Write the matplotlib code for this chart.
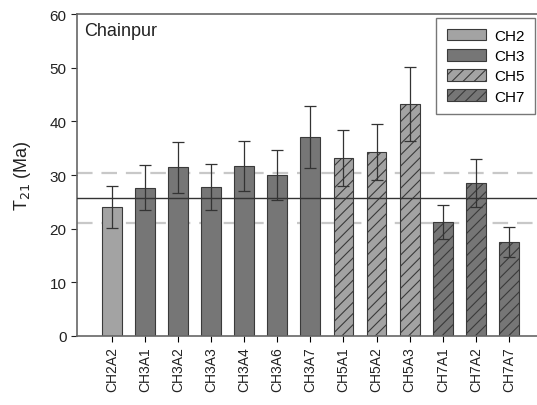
import matplotlib.pyplot as plt
import numpy as np

samples = ["CH2A2", "CH3A1", "CH3A2", "CH3A3", "CH3A4", "CH3A6", "CH3A7",
           "CH5A1", "CH5A2", "CH5A3", "CH7A1", "CH7A2", "CH7A7"]
groups = ["CH2", "CH3", "CH3", "CH3", "CH3", "CH3", "CH3",
          "CH5", "CH5", "CH5", "CH7", "CH7", "CH7"]
ages = [24.0, 27.6, 31.4, 27.8, 31.7, 30.0, 37.1,
        33.2, 34.3, 43.2, 21.2, 28.5, 17.5]
errors = [3.9, 4.2, 4.8, 4.3, 4.7, 4.6, 5.8,
          5.2, 5.2, 6.9, 3.2, 4.4, 2.8]
mean_age = 25.7
mean_err = 4.6

styles = {
    "CH2": dict(facecolor="#a3a3a3", hatch=None),
    "CH3": dict(facecolor="#767676", hatch=None),
    "CH5": dict(facecolor="#a3a3a3", hatch="///"),
    "CH7": dict(facecolor="#767676", hatch="///"),
}

plt.rcParams["font.family"] = "Liberation Sans"
plt.rcParams["hatch.color"] = "#3a3a3a"
plt.rcParams["hatch.linewidth"] = 0.8

fig = plt.figure(figsize=(5.37, 4.06), dpi=100)
ax = fig.add_axes([0.1434, 0.17, 0.866, 0.793])

x = np.arange(len(samples))
seen = set()
for xi, g, a, e in zip(x, groups, ages, errors):
    st = styles[g]
    lab = g if g not in seen else None
    seen.add(g)
    ax.bar(xi, a, width=0.6, color=st["facecolor"], hatch=st["hatch"],
           edgecolor="#3a3a3a", linewidth=0.8, label=lab, zorder=2)
    ax.errorbar(xi, a, yerr=e, fmt="none", ecolor="#333333", elinewidth=0.9,
                capsize=4, capthick=0.9, zorder=3)

ax.axhline(mean_age, color="#333333", lw=1.0, zorder=4)
ax.axhline(mean_age + mean_err, color="#c8c8c8", lw=1.6, ls=(0, (7, 4)), zorder=1)
ax.axhline(mean_age - mean_err, color="#c8c8c8", lw=1.6, ls=(0, (7, 4)), zorder=1)

ax.set_xlim(-1.05, 13)
ax.set_ylim(0, 60)
ax.set_yticks(range(0, 61, 10))
ax.set_xticks(x)
ax.set_xticklabels(samples, rotation=90, fontsize=10, color="#222222")
ax.tick_params(axis="y", labelsize=11, colors="#222222", direction="out", length=4)
ax.tick_params(axis="x", direction="out", length=4)
for sp in ax.spines.values():
    sp.set_color("#666666")
    sp.set_linewidth(1.2)

ax.set_ylabel("T$_{21}$ (Ma)", fontsize=13, color="#222222", labelpad=12)
ax.text(0.015, 0.975, "Chainpur", transform=ax.transAxes, fontsize=13,
        va="top", ha="left", color="#222222")

leg = ax.legend(loc="upper right", bbox_to_anchor=(0.985, 0.988), fontsize=11,
                fancybox=False, edgecolor="#555555", handlelength=2.6,
                handleheight=0.8, labelspacing=0.4, borderpad=0.7,
                handletextpad=0.5, borderaxespad=0)
leg.get_frame().set_linewidth(1.0)

fig.savefig("out.png", dpi=100)
